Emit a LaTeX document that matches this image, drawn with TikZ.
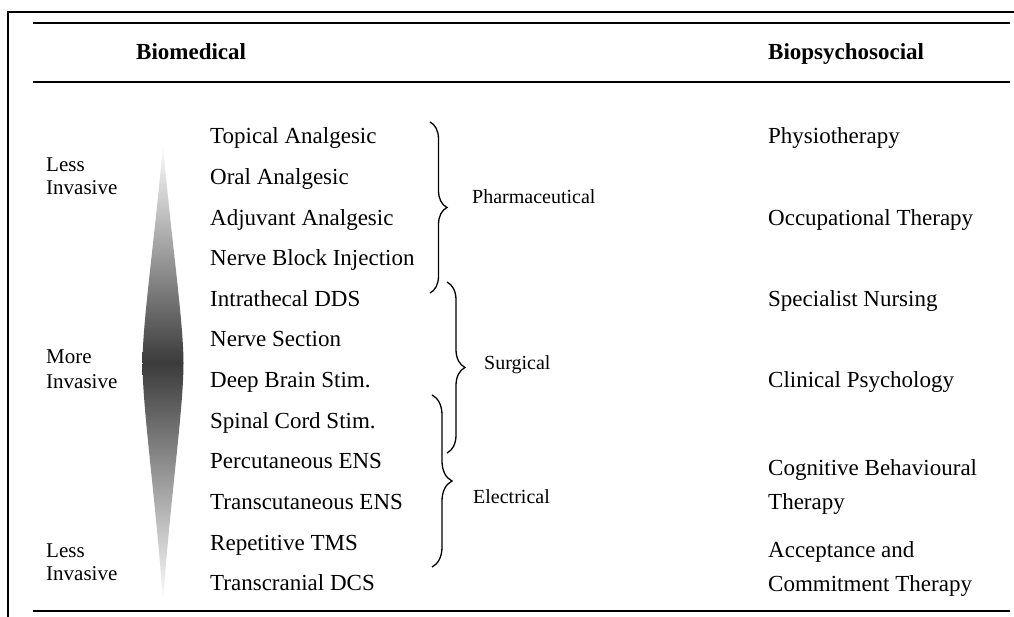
\documentclass[tikz,border=0pt]{standalone}
\usepackage{fontspec}
\setmainfont{Liberation Serif}
\usetikzlibrary{decorations.pathreplacing}
\begin{document}
\begin{tikzpicture}[x=1pt,y=-1pt,
  item/.style={anchor=base west, inner sep=0pt, font=\fontsize{23}{23}\selectfont},
  head/.style={anchor=base west, inner sep=0pt, font=\fontsize{23}{23}\selectfont\bfseries},
  side/.style={anchor=base west, inner sep=0pt, font=\fontsize{21}{21}\selectfont},
  grp/.style={anchor=base west, inner sep=0pt, font=\fontsize{20}{20}\selectfont},
  tablerule/.style={line width=1.4pt},
  framerule/.style={line width=2pt},
  bracestyle/.style={line width=1.3pt, decorate, decoration={brace, amplitude=#1}}
]
\useasboundingbox (0,0) rectangle (1014,617);
% frame and rules
\draw[framerule] (8,617) -- (8,12) -- (1014,12);
\draw[tablerule] (33,23) -- (1010,23);
\draw[tablerule] (33,82) -- (1010,82);
\draw[tablerule] (33,611) -- (1010,611);
% headers
\node[head] (hbio) at (136,60) {Biomedical};
\node[head] (hpsy) at (768,60) {Biopsychosocial};
% spindle
\shade[top color=white, bottom color=black!77]
  (163,143) .. controls (170,230) and (183.5,320) .. (183.5,363)
  -- (142.5,363) .. controls (142.5,320) and (156,230) .. (163,143) -- cycle;
\shade[top color=black!77, bottom color=white]
  (142.5,363) -- (183.5,363) .. controls (183.5,410) and (170,500) .. (163,603)
  .. controls (156,500) and (142.5,410) .. (142.5,363) -- cycle;
% side labels
\node[side] (l1a) at (46,172) {Less};
\node[side] (l1b) at (46,195) {Invasive};
\node[side] (l2a) at (46,363) {More};
\node[side] (l2b) at (46,388) {Invasive};
\node[side] (l3a) at (46,557) {Less};
\node[side] (l3b) at (46,580) {Invasive};
% items
\node[item] (i1) at (210,144) {Topical Analgesic};
\node[item] (i2) at (210,184.6) {Oral Analgesic};
\node[item] (i3) at (210,225.2) {Adjuvant Analgesic};
\node[item] (i4) at (210,265.8) {Nerve Block Injection};
\node[item] (i5) at (210,306.4) {Intrathecal DDS};
\node[item] (i6) at (210,347) {Nerve Section};
\node[item] (i7) at (210,387.6) {Deep Brain Stim.};
\node[item] (i8) at (210,428.2) {Spinal Cord Stim.};
\node[item] (i9) at (210,468.8) {Percutaneous ENS};
\node[item] (i10) at (210,509.4) {Transcutaneous ENS};
\node[item] (i11) at (210,550) {Repetitive TMS};
\node[item] (i12) at (210,590.6) {Transcranial DCS};
% braces
\coordinate (pa) at (430,122);
\coordinate (pb) at (430,293);
\coordinate (sa) at (447,282);
\coordinate (sb) at (447,453);
\coordinate (ea) at (432,395);
\coordinate (eb) at (432,567);
\draw[bracestyle=17] (pa) -- (pb);
\draw[bracestyle=18] (sa) -- (sb);
\draw[bracestyle=20] (ea) -- (eb);
\node[grp] (gph) at (472,204) {Pharmaceutical};
\node[grp] (gsu) at (484,370) {Surgical};
\node[grp] (gel) at (473,503) {Electrical};
% right column
\node[item] (r1) at (768,144) {Physiotherapy};
\node[item] (r2) at (768,225.2) {Occupational Therapy};
\node[item] (r3) at (768,306.4) {Specialist Nursing};
\node[item] (r4) at (768,387.6) {Clinical Psychology};
\node[item] (r5a) at (768,475) {Cognitive Behavioural};
\node[item] (r5b) at (768,509.4) {Therapy};
\node[item] (r6a) at (768,557) {Acceptance and};
\node[item] (r6b) at (768,591) {Commitment Therapy};
\end{tikzpicture}
\end{document}
